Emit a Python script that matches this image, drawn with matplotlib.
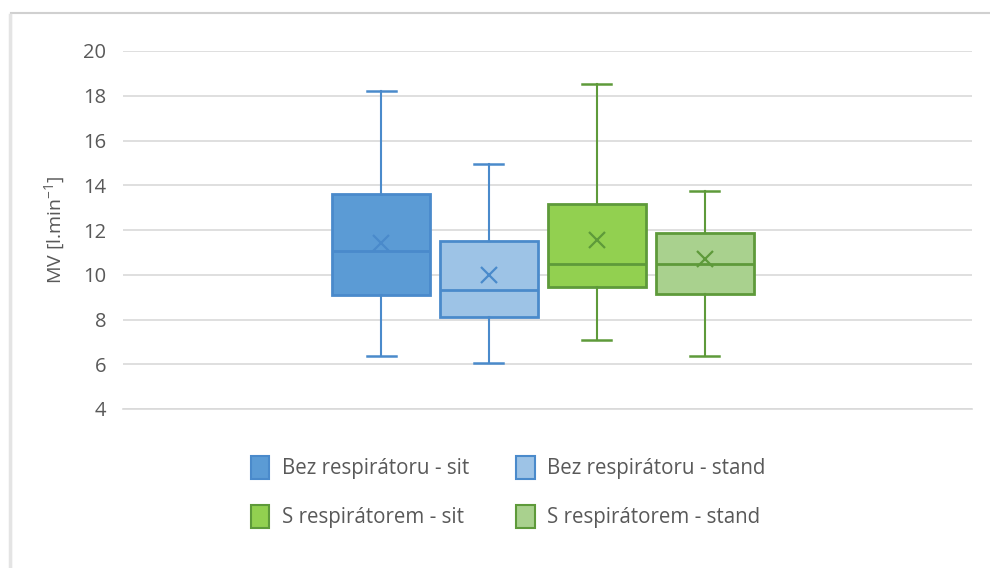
import matplotlib
matplotlib.use("Agg")
import matplotlib.pyplot as plt
from matplotlib.patches import Patch, Rectangle
from matplotlib.lines import Line2D

# ---- data ----
labels = ["Bez respirátoru - sit", "Bez respirátoru - stand",
          "S respirátorem - sit", "S respirátorem - stand"]
whislo = [6.39, 6.05, 7.09, 6.39]
q1 = [9.09, 8.12, 9.46, 9.13]
med = [11.08, 9.31, 10.46, 10.46]
q3 = [13.60, 11.53, 13.18, 11.88]
whishi = [18.22, 14.96, 18.51, 13.76]
mean = [11.44, 10.00, 11.56, 10.71]
yticks = [4, 6, 8, 10, 12, 14, 16, 18, 20]

fills = ["#5B9BD5", "#9DC3E6", "#92D050", "#A9D18E"]
edges = ["#4A8ACB", "#4A8ACB", "#5E9A3A", "#5E9A3A"]

plt.rcParams['font.family'] = ['Open Sans', 'DejaVu Sans']
txt = "#595959"

fig = plt.figure(figsize=(9.9, 5.68), dpi=100)
fig.patch.set_facecolor("white")

# chart frame (light border)
fig.add_artist(Rectangle((11/990, -0.1), 1.2, 1 - 13/568 + 0.1,
                         transform=fig.transFigure, fill=False,
                         edgecolor="#D0D0D0", linewidth=1.5))
fig.add_artist(Line2D([9.5/990, 9.5/990], [-0.1, 1 - 15/568],
                      transform=fig.transFigure, color="#E4E4E4", linewidth=2.5))

ax = fig.add_axes([123/990, 1 - 409/568, (972 - 123)/990, (409 - 51)/568])
ax.set_ylim(4, 20)
ax.yaxis.grid(True, color="#D9D9D9", linewidth=1.2)
ax.set_axisbelow(True)
for s in ["top", "right", "left"]:
    ax.spines[s].set_visible(False)
ax.spines["bottom"].set_color("#D9D9D9")
ax.spines["bottom"].set_linewidth(1.2)

center, step, width = 0.4945, 0.127, 0.1154
positions = [center + (i - 1.5) * step for i in range(4)]

for i in range(4):
    st = [dict(whislo=whislo[i], q1=q1[i], med=med[i], q3=q3[i],
               whishi=whishi[i], mean=mean[i], fliers=[])]
    ec = edges[i]
    ax.bxp(st, positions=[positions[i]], widths=width, patch_artist=True,
           showmeans=True, showfliers=False, capwidths=0.034,
           boxprops=dict(facecolor=fills[i], edgecolor=ec, linewidth=2),
           medianprops=dict(color=ec, linewidth=2),
           whiskerprops=dict(color=ec, linewidth=1.5),
           capprops=dict(color=ec, linewidth=1.8),
           meanprops=dict(marker="x", markeredgecolor=ec, markersize=12,
                          markeredgewidth=1.6))

ax.set_xlim(0, 1)
ax.set_xticks([])
ax.set_yticks(yticks)
ax.tick_params(axis="y", length=0, pad=12, labelsize=14.5, labelcolor=txt)
ax.set_ylabel("MV [l.min$^{\\mathregular{-1}}$]", fontsize=14, color=txt, labelpad=11)

handles = [Patch(facecolor=fills[i], edgecolor=edges[i], linewidth=1.5) for i in range(4)]
order = [0, 2, 1, 3]
fig.legend([handles[k] for k in order], [labels[k] for k in order], ncol=2,
           loc="center", bbox_to_anchor=(508/990, 1 - 492/568),
           frameon=False, fontsize=14.8, labelcolor=txt, handlelength=0.9,
           handleheight=1.35, handletextpad=0.6, columnspacing=2.3, labelspacing=1.25)

fig.savefig("out.png", dpi=100, facecolor="white")
